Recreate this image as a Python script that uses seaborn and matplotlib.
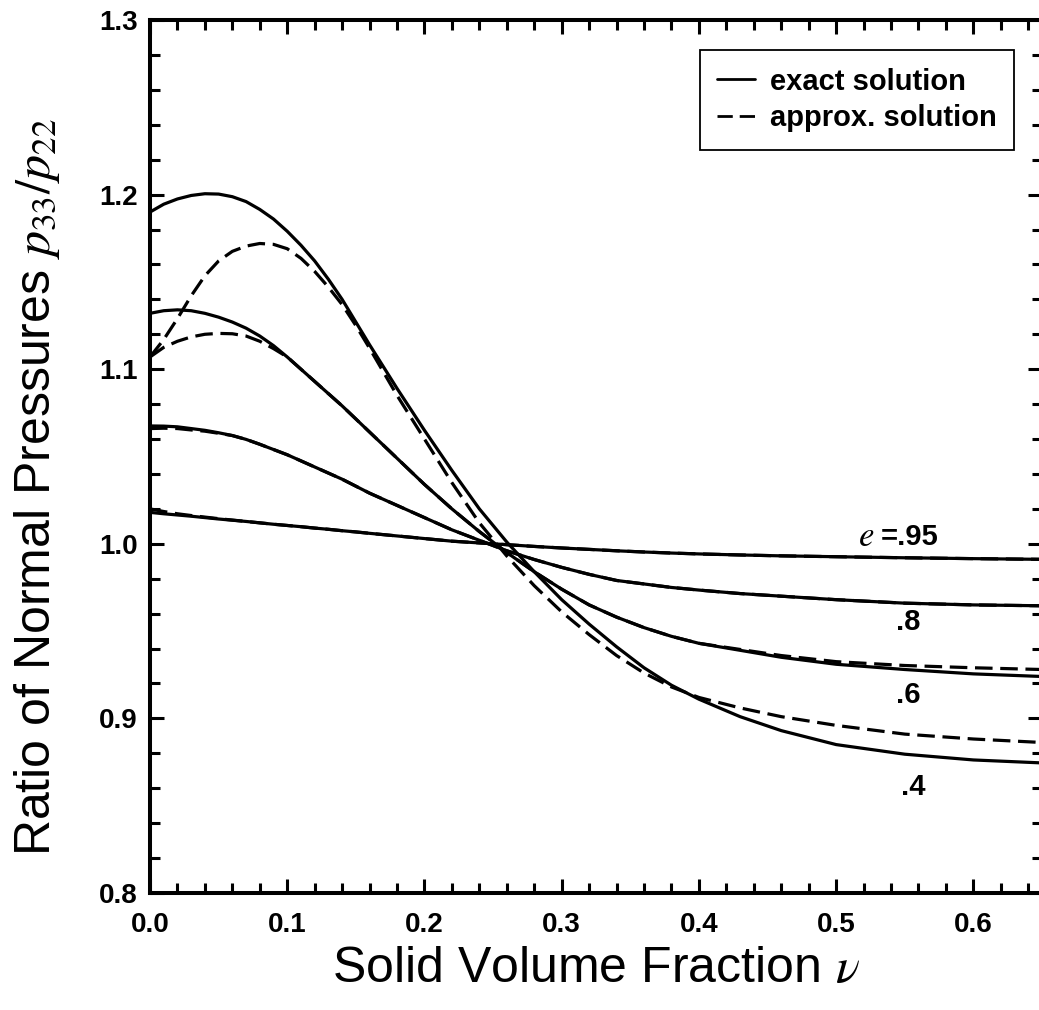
import numpy as np
import pandas as pd
import seaborn as sns
import matplotlib
matplotlib.use("Agg")
import matplotlib.pyplot as plt
from matplotlib.lines import Line2D
from matplotlib.ticker import MultipleLocator

# ---- data ----
nu = [0.00, 0.01, 0.02, 0.03, 0.04, 0.05, 0.06, 0.07, 0.08, 0.09, 0.10, 0.11,
      0.12, 0.13, 0.14, 0.15, 0.16, 0.18, 0.20, 0.22, 0.24, 0.26, 0.28, 0.30,
      0.32, 0.34, 0.36, 0.38, 0.40, 0.43, 0.46, 0.50, 0.55, 0.60, 0.65]

exact_e040 = [1.190, 1.1945, 1.1975, 1.1995, 1.2005, 1.2003, 1.1988, 1.196, 1.1915, 1.186, 1.179, 1.171,
              1.162, 1.1515, 1.140, 1.127, 1.114, 1.089, 1.065, 1.042, 1.020, 1.001, 0.984, 0.968,
              0.954, 0.941, 0.929, 0.919, 0.911, 0.901, 0.893, 0.885, 0.8795, 0.8762, 0.8745]
approx_e040 = [1.107, 1.117, 1.129, 1.142, 1.1535, 1.162, 1.1675, 1.1705, 1.172, 1.1715, 1.169, 1.1635,
               1.156, 1.147, 1.137, 1.125, 1.112, 1.085, 1.060, 1.035, 1.012, 0.993, 0.976, 0.961,
               0.948, 0.936, 0.926, 0.918, 0.912, 0.906, 0.901, 0.896, 0.891, 0.8882, 0.8862]

exact_e060 = [1.132, 1.1335, 1.134, 1.1335, 1.132, 1.1298, 1.127, 1.1235, 1.119, 1.1135, 1.107, 1.100,
              1.093, 1.086, 1.079, 1.0715, 1.064, 1.049, 1.034, 1.020, 1.007, 0.995, 0.984, 0.974,
              0.965, 0.958, 0.952, 0.947, 0.943, 0.939, 0.935, 0.931, 0.928, 0.9255, 0.924]
approx_e060 = [1.107, 1.1125, 1.116, 1.1185, 1.120, 1.1205, 1.1203, 1.119, 1.116, 1.1118, 1.107, 1.100,
               1.093, 1.086, 1.079, 1.0715, 1.064, 1.049, 1.034, 1.020, 1.007, 0.995, 0.984, 0.974,
               0.965, 0.958, 0.952, 0.947, 0.943, 0.9395, 0.936, 0.9325, 0.9303, 0.929, 0.928]

exact_e080 = [1.0675, 1.0674, 1.067, 1.066, 1.065, 1.0636, 1.062, 1.0598, 1.057, 1.054, 1.051, 1.0475,
              1.044, 1.0405, 1.037, 1.033, 1.029, 1.022, 1.015, 1.008, 1.002, 0.996, 0.991, 0.9865,
              0.9825, 0.979, 0.977, 0.975, 0.9735, 0.9715, 0.970, 0.968, 0.966, 0.965, 0.9645]
approx_e080 = [1.066, 1.0662, 1.066, 1.0652, 1.0645, 1.0633, 1.062, 1.0598, 1.057, 1.054, 1.051, 1.0475,
               1.044, 1.0405, 1.037, 1.033, 1.029, 1.022, 1.015, 1.008, 1.002, 0.996, 0.991, 0.9865,
               0.9825, 0.979, 0.977, 0.975, 0.9735, 0.9715, 0.970, 0.968, 0.966, 0.965, 0.9645]

exact_e095 = [1.018, 1.0172, 1.0165, 1.0158, 1.015, 1.0142, 1.0135, 1.0128, 1.012, 1.0112, 1.0105, 1.0098,
              1.009, 1.0083, 1.0075, 1.0068, 1.006, 1.0045, 1.003, 1.0015, 1.0005, 0.9995, 0.9985, 0.9976,
              0.9968, 0.996, 0.9953, 0.9947, 0.9942, 0.9936, 0.9931, 0.9926, 0.992, 0.9915, 0.9911]
approx_e095 = [1.020, 1.0185, 1.0172, 1.0162, 1.0153, 1.0144, 1.0136, 1.0128, 1.012, 1.0112, 1.0105, 1.0098,
               1.009, 1.0083, 1.0075, 1.0068, 1.006, 1.0045, 1.003, 1.0015, 1.0005, 0.9995, 0.9985, 0.9976,
               0.9968, 0.996, 0.9953, 0.9947, 0.9942, 0.9936, 0.9931, 0.9926, 0.992, 0.9915, 0.9911]

label_texts = [".4", ".6", ".8", "=.95"]
label_x = [0.556, 0.5525, 0.5525, 0.5535]
label_y = [0.8607, 0.9134, 0.9552, 1.0039]
e_symbol_x = 0.5215

x_ticks = [0.0, 0.1, 0.2, 0.3, 0.4, 0.5, 0.6]
y_ticks = [0.8, 0.9, 1.0, 1.1, 1.2, 1.3]

series = {
    (".4", "exact solution"): exact_e040, (".4", "approx. solution"): approx_e040,
    (".6", "exact solution"): exact_e060, (".6", "approx. solution"): approx_e060,
    (".8", "exact solution"): exact_e080, (".8", "approx. solution"): approx_e080,
    (".95", "exact solution"): exact_e095, (".95", "approx. solution"): approx_e095,
}
rows = []
for (e, sol), vals in series.items():
    for xv, yv in zip(nu, vals):
        rows.append({"nu": xv, "ratio": yv, "e": e, "solution": sol, "curve": f"{e}-{sol}"})
df = pd.DataFrame(rows)

# ---- style ----
sns.set_style("ticks")
plt.rcParams["font.family"] = ["Liberation Sans", "DejaVu Sans"]
plt.rcParams["mathtext.fontset"] = "stix"
for k in ["text.color", "axes.labelcolor", "xtick.color", "ytick.color", "axes.edgecolor"]:
    plt.rcParams[k] = "black"

fig = plt.figure(figsize=(10.39, 10.10), dpi=100)
ax = fig.add_axes([150 / 1039, (1010 - 893) / 1010, (1042 - 150) / 1039, (893 - 20) / 1010])

sns.lineplot(data=df, x="nu", y="ratio", units="curve", estimator=None,
             style="solution", style_order=["approx. solution", "exact solution"],
             dashes={"exact solution": "", "approx. solution": (5.5, 2.4)},
             color="black", linewidth=2.3, legend=False, sort=False, ax=ax)

ax.set_xlim(0, 0.65)
ax.set_ylim(0.8, 1.3)
ax.set_xticks(x_ticks)
ax.set_yticks(y_ticks)
ax.set_xticklabels([f"{t:.1f}" for t in x_ticks], fontsize=20, fontweight="bold")
ax.set_yticklabels([f"{t:.1f}" for t in y_ticks], fontsize=20, fontweight="bold")
ax.xaxis.set_minor_locator(MultipleLocator(0.02))
ax.yaxis.set_minor_locator(MultipleLocator(0.02))
ax.tick_params(which="both", direction="in", top=True, right=True, color="black")
ax.tick_params(which="major", length=10, width=2.2)
ax.tick_params(which="minor", length=7, width=2.2)
ax.tick_params(axis="x", which="major", pad=14)
ax.tick_params(axis="y", which="major", pad=9)
for sp in ax.spines.values():
    sp.set_linewidth(2.9)
    sp.set_color("black")

ax.set_xlabel(r"Solid Volume Fraction $\nu$", fontsize=36)
ax.set_ylabel(r"Ratio of Normal Pressures $p_{33}/p_{22}$", fontsize=36)
ax.xaxis.set_label_coords(0.5, -0.061)
ax.yaxis.set_label_coords(-0.099, 0.4645)

for txt, xv, yv in zip(label_texts, label_x, label_y):
    ax.text(xv, yv, txt, fontsize=21, fontweight="bold", ha="center", va="center")
ax.text(e_symbol_x, label_y[-1], r"$e$", fontsize=25, ha="center", va="center")

handles = [Line2D([], [], color="black", lw=2, ls="-"),
           Line2D([], [], color="black", lw=2, dashes=(5.5, 2.5))]
leg = ax.legend(handles, ["exact solution", "approx. solution"],
                loc="upper right", bbox_to_anchor=(1014 / 1039, 1 - 50 / 1010),
                bbox_transform=fig.transFigure,
                prop={"size": 21, "weight": "bold"}, frameon=True, fancybox=False,
                edgecolor="black", framealpha=1, handlelength=1.3, handletextpad=0.5,
                borderpad=0.6, labelspacing=0.3, borderaxespad=0)
leg.get_frame().set_linewidth(1.3)

fig.savefig("out.png", dpi=100)
